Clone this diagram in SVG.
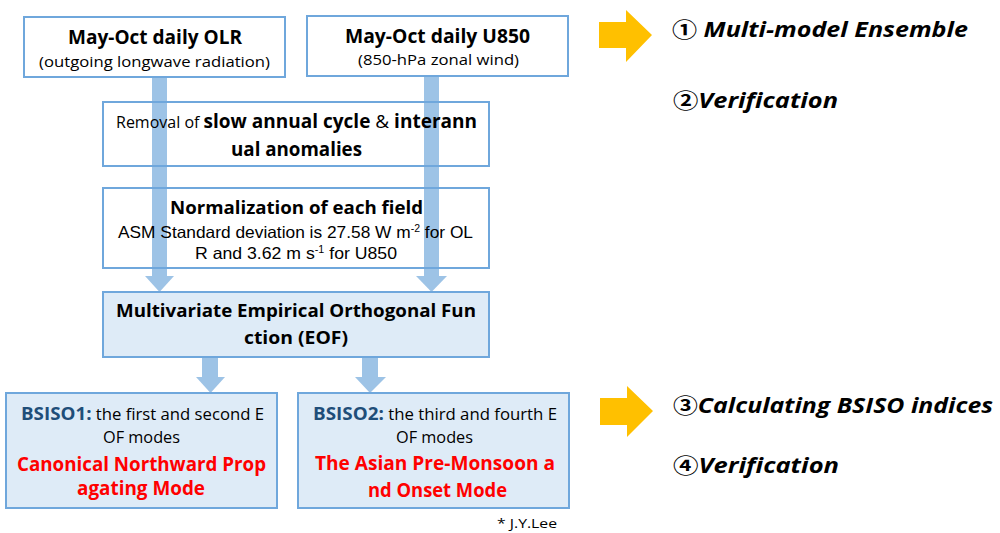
<svg xmlns="http://www.w3.org/2000/svg" width="1000" height="533" viewBox="0 0 1000 533">
<style>
.box{fill:none;stroke:#6fa7dc;stroke-width:2}
.boxf{fill:#deebf7;stroke:#6fa7dc;stroke-width:2}
.bar{fill:#9dc3e6}
.go{fill:#ffc000}
text{font-family:"Open Sans","Noto Sans",sans-serif;fill:#000}
.c{text-anchor:middle}
.b{font-weight:bold}
.arial{font-family:"Liberation Sans",Arial,sans-serif}
.red{fill:#ff0000;font-weight:bold}
.navy{fill:#1f4e79;font-weight:bold}
.side{font-weight:bold;font-style:italic;font-size:21px;font-family:"Open Sans","Noto Sans CJK KR",sans-serif}
.num{font-style:normal;font-weight:bold;font-family:"Noto Sans CJK KR","DejaVu Sans",sans-serif}
</style>
<rect width="1000" height="533" fill="#ffffff"/>

<g id="connectors">
  <rect class="bar" x="152" y="77" width="15" height="200"/>
  <polygon class="bar" points="145,276 174,276 159.5,292"/>
  <rect class="bar" x="424" y="76" width="15" height="201"/>
  <polygon class="bar" points="416,276 447,276 431.5,292"/>
  <rect class="bar" x="202" y="357" width="16" height="21"/>
  <polygon class="bar" points="196,377 225,377 210.5,393"/>
  <rect class="bar" x="362" y="357" width="16" height="21"/>
  <polygon class="bar" points="355,377 386,377 370,393"/>
  <polygon class="go" points="599,22 626,22 626,10 652,35 626,62 626,48 599,48"/>
  <polygon class="go" points="600,398 627,398 627,386 653,411 627,437 627,425 600,425"/>
</g>

<g id="olr">
  <rect class="box" x="24" y="17" width="261" height="60"/>
  <text class="c b" x="155" y="44" font-size="19" textLength="174" lengthAdjust="spacingAndGlyphs">May-Oct daily OLR</text>
  <text class="c" x="154.5" y="67" font-size="15" textLength="231" lengthAdjust="spacingAndGlyphs">(outgoing longwave radiation)</text>
</g>

<g id="u850">
  <rect class="box" x="307" y="16" width="261" height="60"/>
  <text class="c b" x="437.5" y="43" font-size="19" textLength="185" lengthAdjust="spacingAndGlyphs">May-Oct daily U850</text>
  <text class="c" x="438.5" y="65" font-size="15" textLength="161" lengthAdjust="spacingAndGlyphs">(850-hPa zonal wind)</text>
</g>

<g id="removal">
  <rect class="box" x="103" y="102" width="386" height="64"/>
  <text class="c" x="296.5" y="128" font-size="16" textLength="361" lengthAdjust="spacingAndGlyphs">Removal of <tspan class="b" font-size="19">slow annual cycle </tspan><tspan font-size="19">&amp;</tspan><tspan class="b" font-size="19"> interann</tspan></text>
  <text class="c b" x="296.5" y="156" font-size="19" textLength="131" lengthAdjust="spacingAndGlyphs">ual anomalies</text>
</g>

<g id="normalization">
  <rect class="box" x="103" y="188" width="386" height="80"/>
  <text class="c b" x="296.5" y="214" font-size="18" textLength="253" lengthAdjust="spacingAndGlyphs">Normalization of each field</text>
  <text class="c arial" x="295.5" y="238" font-size="16.5" textLength="355" lengthAdjust="spacingAndGlyphs">ASM Standard deviation is 27.58 W m<tspan font-size="10" dy="-6">-2</tspan><tspan dy="6"> for OL</tspan></text>
  <text class="c arial" x="296" y="259" font-size="16.5" textLength="202" lengthAdjust="spacingAndGlyphs">R and 3.62 m s<tspan font-size="10" dy="-6">-1</tspan><tspan dy="6"> for U850</tspan></text>
</g>

<g id="eof">
  <rect class="boxf" x="103" y="292" width="386" height="65"/>
  <text class="c b" x="296" y="317" font-size="17" textLength="360" lengthAdjust="spacingAndGlyphs">Multivariate Empirical Orthogonal Fun</text>
  <text class="c b" x="296" y="344" font-size="17" textLength="104" lengthAdjust="spacingAndGlyphs">ction (EOF)</text>
</g>

<g id="bsiso1">
  <rect class="boxf" x="6" y="393" width="271" height="115"/>
  <text class="c" x="142.5" y="420" font-size="16" textLength="243" lengthAdjust="spacingAndGlyphs"><tspan class="navy" font-size="18">BSISO1:</tspan> the first and second E</text>
  <text class="c" x="141.5" y="443" font-size="16" textLength="77" lengthAdjust="spacingAndGlyphs">OF modes</text>
  <text class="c red" x="141.5" y="471" font-size="19" textLength="249" lengthAdjust="spacingAndGlyphs">Canonical Northward Prop</text>
  <text class="c red" x="141" y="495" font-size="19" textLength="128" lengthAdjust="spacingAndGlyphs">agating Mode</text>
</g>

<g id="bsiso2">
  <rect class="boxf" x="298" y="393" width="271" height="115"/>
  <text class="c" x="435" y="420" font-size="16" textLength="244" lengthAdjust="spacingAndGlyphs"><tspan class="navy" font-size="18">BSISO2:</tspan> the third and fourth E</text>
  <text class="c" x="434.5" y="443" font-size="16" textLength="77" lengthAdjust="spacingAndGlyphs">OF modes</text>
  <text class="c red" x="435" y="470" font-size="19" textLength="240" lengthAdjust="spacingAndGlyphs">The Asian Pre-Monsoon a</text>
  <text class="c red" x="437.5" y="497" font-size="19" textLength="139" lengthAdjust="spacingAndGlyphs">nd Onset Mode</text>
</g>

<g id="credit">
  <text x="497" y="528" font-size="13" textLength="60" lengthAdjust="spacingAndGlyphs">* J.Y.Lee</text>
</g>

<g id="steps">
  <text class="side" x="672" y="37" textLength="296" lengthAdjust="spacingAndGlyphs"><tspan class="num">①</tspan> Multi-model Ensemble</text>
  <text class="side" x="673" y="108" textLength="165" lengthAdjust="spacingAndGlyphs"><tspan class="num">②</tspan>Verification</text>
  <text class="side" x="673" y="413" textLength="320" lengthAdjust="spacingAndGlyphs"><tspan class="num">③</tspan>Calculating BSISO indices</text>
  <text class="side" x="673" y="473" textLength="166" lengthAdjust="spacingAndGlyphs"><tspan class="num">④</tspan>Verification</text>
</g>
</svg>
